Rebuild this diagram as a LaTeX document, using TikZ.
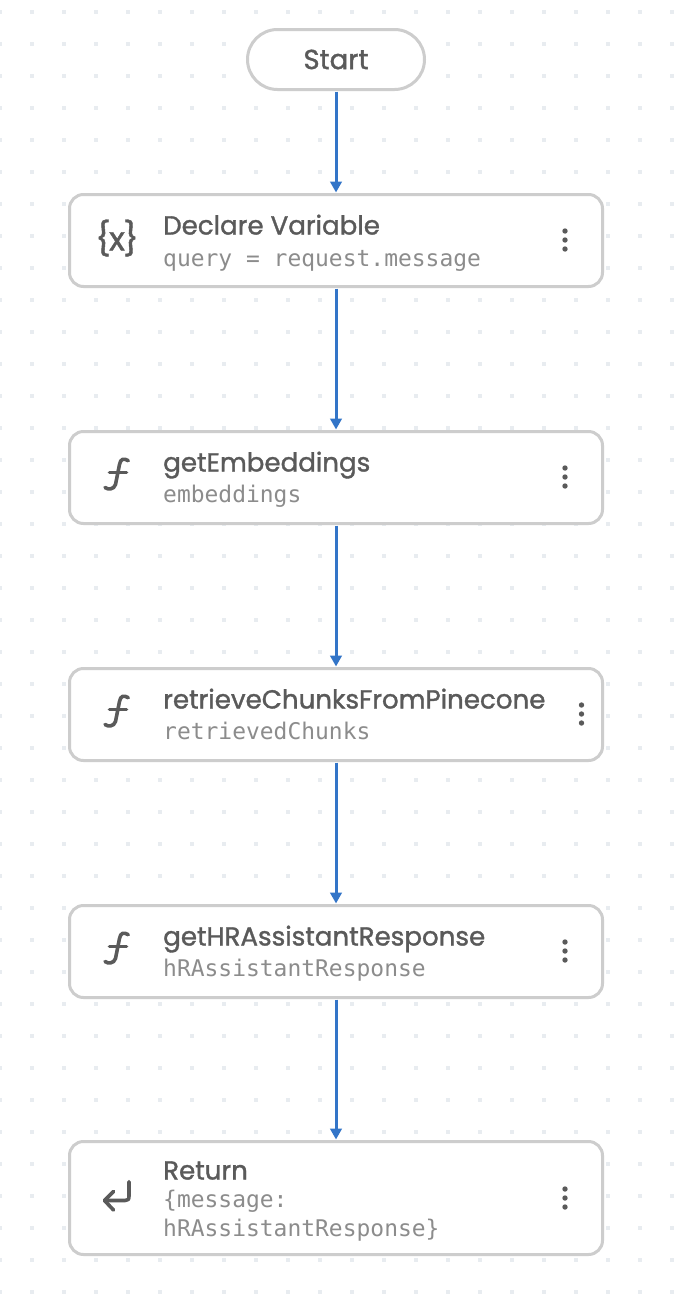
\documentclass[tikz,border=0pt]{standalone}
\usepackage{fontspec}
\newfontfamily\ttlfont[FakeBold=1.3]{Poppins}
\newfontfamily\subfont{DejaVu Sans Mono}
\definecolor{gridc}{HTML}{E8ECF0}
\definecolor{edgec}{HTML}{CDCDCD}
\definecolor{inkc}{HTML}{5A5A5A}
\definecolor{subc}{HTML}{8C8C8C}
\definecolor{flowc}{HTML}{3375C8}
\usetikzlibrary{arrows.meta}
\tikzset{
  x=1pt,y=-1pt,
  griddot/.style={fill=gridc,draw=none},
  card/.style={draw=edgec,line width=3pt,fill=white,rounded corners=14pt,minimum width=533pt,minimum height=92pt,inner sep=0pt,outer sep=2pt},
  pill/.style={draw=edgec,line width=3pt,fill=white,rounded corners=30pt,minimum width=177pt,minimum height=60pt,inner sep=0pt,outer sep=2pt,text=inkc,font=\ttlfont\fontsize{27.5}{30}\selectfont},
  titletext/.style={anchor=base west,inner sep=0pt,text=inkc,font=\ttlfont\fontsize{26.1}{30}\selectfont},
  subtext/.style={anchor=base west,inner sep=0pt,text=subc,font=\subfont\fontsize{22.95}{29}\selectfont},
  flow/.style={draw=flowc,line width=3pt,-{Triangle[length=11pt,width=11.5pt]}},
  icon/.style={draw=inkc,line width=3.6pt,line cap=round,line join=round},
  kebabdot/.style={fill=inkc,draw=none}
}
\newcommand{\kebabat}[2]{%
  \fill[kebabdot] (#1,#2-9) circle (2.7pt);
  \fill[kebabdot] (#1,#2) circle (2.7pt);
  \fill[kebabdot] (#1,#2+9) circle (2.7pt);}
\newcommand{\fglyph}[1]{%
  \draw[icon] (128.3,#1-16.8) .. controls (124,#1-19.5) and (120.5,#1-19) .. (119.5,#1-13) -- (115.5,#1+7) .. controls (114,#1+12) and (108,#1+12.5) .. (105,#1+10);
  \draw[icon] (109.5,#1-5.2) -- (126.5,#1-5.2);}
\begin{document}
\begin{tikzpicture}
\useasboundingbox (0,0) rectangle (684,1304);
\fill[white] (0,0) rectangle (684,1304);
\foreach \i in {0,...,21}{\foreach \j in {0,...,40}{
  \fill[griddot] (32*\i-1.8,12+32*\j-1.8) rectangle ++(3.6,3.6);
}}
\node[pill] (start) at (336,59.5) {Start};
\node[card] (declare) at (336,240.5) {};
\node[card] (embed) at (336,477.5) {};
\node[card] (chunks) at (336,714.5) {};
\node[card] (hrresp) at (336,951.5) {};
\node[card,minimum height=113pt] (ret) at (336,1198) {};

\node[titletext] (t1) at (163,234.5) {Declare Variable};
\node[subtext] (s1) at (163,266.5) {query = request.message};
\node[titletext] (t2) at (163,471.5) {getEmbeddings};
\node[subtext] (s2) at (163,502.5) {embeddings};
\node[titletext] (t3) at (163,708.5) {retrieveChunksFromPinecone};
\node[subtext] (s3) at (163,739.8) {retrievedChunks};
\node[titletext] (t4) at (163,945.5) {getHRAssistantResponse};
\node[subtext] (s4) at (163,976.8) {hRAssistantResponse};
\node[titletext] (t5) at (163,1179.5) {Return};
\node[subtext] (s5) at (163,1207.8) {\{message:};
\node[subtext] (s6) at (163,1236.8) {hRAssistantResponse\}};

\node[anchor=center,inner sep=0pt,text=inkc,font=\ttlfont\fontsize{33}{34}\selectfont] (varicon) at (117,238) {\{\kern-1.5pt x\kern-1.5pt\}};
\fglyph{477.5}
\fglyph{714.5}
\fglyph{951.5}
\draw[icon] (129,1181.7) -- (129,1196) .. controls (129,1199.5) and (128,1200.5) .. (125,1200.5) -- (105,1200.5);
\draw[icon] (113.5,1191.5) -- (104.5,1200.5) -- (113.5,1210);

\kebabat{565}{240}
\kebabat{565}{477}
\kebabat{581.5}{714}
\kebabat{565}{951}
\kebabat{565}{1198}

\draw[flow] (start) -- (declare);
\draw[flow] (declare) -- (embed);
\draw[flow] (embed) -- (chunks);
\draw[flow] (chunks) -- (hrresp);
\draw[flow] (hrresp) -- (ret);
\end{tikzpicture}
\end{document}
